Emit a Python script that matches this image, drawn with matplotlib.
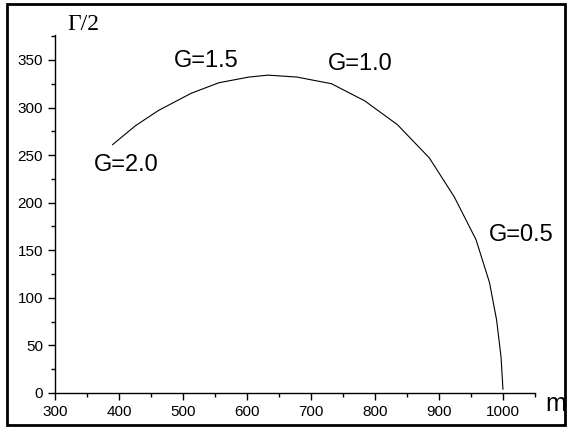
import matplotlib.pyplot as plt
from matplotlib.patches import Rectangle
from matplotlib.ticker import MultipleLocator

# curve: m on x, Gamma/2 on y
m_vals = [390, 426, 462, 513, 556, 603, 633, 678, 732, 784, 835, 885,
          924, 958, 979, 990, 997, 1000]
gamma_half = [261, 281, 297, 315, 326, 332, 334, 332, 325, 307, 282, 247,
              206, 161, 116, 77, 38, 4]

# G labels along the curve (label, m, Gamma/2)
g_labels = ["G=2.0", "G=1.5", "G=1.0", "G=0.5"]
g_m = [412, 537, 777, 1028]
g_y = [240, 349, 346, 166]

x_ticks = [300, 400, 500, 600, 700, 800, 900, 1000]
y_ticks = [0, 50, 100, 150, 200, 250, 300, 350]

plt.rcParams['font.family'] = ['Liberation Sans', 'DejaVu Sans']

fig = plt.figure(figsize=(5.7, 4.28), dpi=100)
ax = fig.add_axes([0.0965, 0.0818, 0.842, 0.836])

ax.plot(m_vals, gamma_half, color='black', lw=0.8)

for lab, xm, yv in zip(g_labels, g_m, g_y):
    ax.text(xm, yv, lab, fontsize=17, ha='center', va='center')

ax.set_xlim(300, 1050)
ax.set_ylim(0, 376)
ax.set_xticks(x_ticks)
ax.set_yticks(y_ticks)
ax.xaxis.set_minor_locator(MultipleLocator(50))
ax.yaxis.set_minor_locator(MultipleLocator(25))
ax.tick_params(which='major', direction='out', length=5, width=1, labelsize=11)
ax.tick_params(which='minor', direction='out', length=3, width=1)

for s in ['top', 'right']:
    ax.spines[s].set_visible(False)
for s in ['left', 'bottom']:
    ax.spines[s].set_linewidth(1)

# axis titles
fig.text(83 / 570, 1 - 24 / 428, '\u0393/2', fontsize=17, ha='center', va='center',
         family=['Liberation Serif', 'DejaVu Serif'])
fig.text(556 / 570, 1 - 404 / 428, 'm', fontsize=18, ha='center', va='center')

# thick frame round the whole figure
fig.patches.append(Rectangle((7 / 570, 3 / 428), 558 / 570, 421 / 428,
                             transform=fig.transFigure, fill=False,
                             edgecolor='black', lw=2))

fig.savefig('out.png', dpi=100)
